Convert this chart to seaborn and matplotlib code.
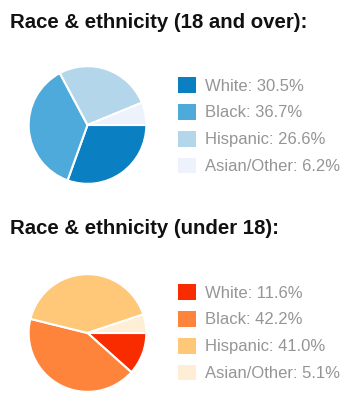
import matplotlib.pyplot as plt
import seaborn as sns
from matplotlib.patches import Patch

sns.set_style("white")
plt.rcParams['font.family'] = ['Liberation Sans', 'DejaVu Sans']

# data
groups = ["White", "Black", "Hispanic", "Asian/Other"]
adult_values = [30.5, 36.7, 26.6, 6.2]
youth_values = [11.6, 42.2, 41.0, 5.1]
adult_colors = ["#0a7fc2", "#4eaadb", "#b4d6ea", "#eef2fd"]
youth_colors = ["#f92c00", "#fe833b", "#fec878", "#feeed6"]
titles = ["Race & ethnicity (18 and over):", "Race & ethnicity (under 18):"]

W, H = 355, 407
fig = plt.figure(figsize=(W / 100, H / 100), dpi=100)

def draw_block(values, colors, title, pie_top, title_base, leg_top):
    # pie axes: 120x120 px box
    ax = fig.add_axes([27.5 / W, (H - pie_top - 120) / H, 120 / W, 120 / H])
    ax.pie(values, colors=colors, startangle=0, counterclock=False,
           wedgeprops=dict(edgecolor="white", linewidth=1.5))
    ax.set_xlim(-1.02, 1.02)
    ax.set_ylim(-1.02, 1.02)
    ax.set_aspect("equal")
    ax.axis("off")
    fig.text(10 / W, 1 - title_base / H, title, fontsize=14.7, fontweight="bold",
             color="#111111", va="baseline", ha="left")
    handles = [Patch(facecolor=c, edgecolor="none") for c in colors]
    labels = [f"{g}: {v:.1f}%" for g, v in zip(groups, values)]
    fig.legend(handles, labels, loc="upper left",
               bbox_to_anchor=(178 / W, 1 - leg_top / H),
               frameon=False, fontsize=12, labelcolor="#959595",
               handlelength=1.08, handleheight=1.08, handletextpad=0.55,
               labelspacing=0.62, borderpad=0, borderaxespad=0)

draw_block(adult_values, adult_colors, titles[0], 65, 28.5, 77)
draw_block(youth_values, youth_colors, titles[1], 273, 234.5, 284)

fig.savefig("out.png", dpi=100)
